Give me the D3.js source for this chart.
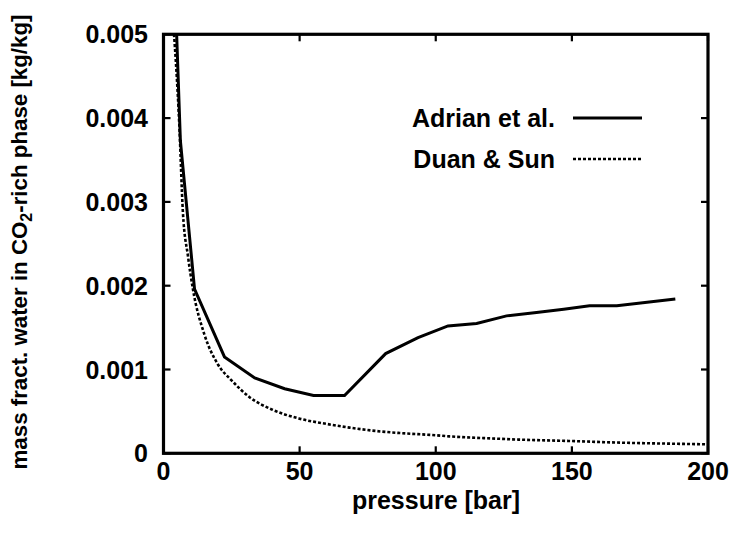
<!DOCTYPE html>
<html>
<head>
<meta charset="utf-8">
<script src="https://cdn.jsdelivr.net/npm/d3@7"></script>
<style>
  html, body { margin: 0; padding: 0; background: #fff; }
  svg { display: block; }
  text { font-family: "Liberation Sans", Arial, sans-serif; font-weight: bold; fill: #000; }
</style>
</head>
<body>
<svg id="chart" width="736" height="534"></svg>
<script>
// Adrian et al. (solid line): pressure [bar] vs water mass fraction [kg/kg]
const adrianPressure = [4.5, 6.2, 11.4, 22.4, 33.5, 44.5, 55.1, 66.5, 81.6, 93.5, 104.5, 115, 126, 137, 147, 156.5, 166.5, 188];
const adrianWater = [0.0053, 0.00373, 0.00196, 0.00115, 0.00090, 0.00077, 0.00069, 0.00069, 0.00119, 0.00138, 0.00152, 0.00155, 0.00164, 0.00168, 0.00172, 0.00176, 0.00176, 0.00184];

// Duan & Sun (dotted line)
const duanPressure = [3.2, 5.9, 7.1, 9, 10.8, 15, 20, 25, 31.6, 40, 50, 60, 68.4, 80, 86.8, 100, 105, 120, 131, 149, 168, 186, 200];
const duanWater = [0.0053, 0.00385, 0.00289, 0.00235, 0.00196, 0.00142, 0.00106, 0.00087, 0.00067, 0.00052, 0.000413, 0.00035, 0.000306, 0.00026, 0.000242, 0.000215, 0.000202, 0.000178, 0.000163, 0.000147, 0.000127, 0.000115, 0.000107];

const xTicks = [0, 50, 100, 150, 200];
const yTicks = [0, 0.001, 0.002, 0.003, 0.004, 0.005];
const yTickLabels = ["0", "0.001", "0.002", "0.003", "0.004", "0.005"];
const seriesNames = ["Adrian et al.", "Duan & Sun"];

const svg = d3.select("#chart");
const plotLeft = 163.5, plotRight = 708, plotTop = 34.3, plotBottom = 453.3;

const x = d3.scaleLinear().domain([0, 200]).range([plotLeft, plotRight]);
const y = d3.scaleLinear().domain([0, 0.005]).range([plotBottom, plotTop]);

svg.append("defs").append("clipPath").attr("id", "plotClip")
  .append("rect").attr("x", plotLeft).attr("y", plotTop)
  .attr("width", plotRight - plotLeft).attr("height", plotBottom - plotTop);

const tickLen = 7;
const fontSize = 25;

// Tick marks on all four sides, pointing inward
const ticks = svg.append("g").attr("stroke", "#000").attr("stroke-width", 2.2);
xTicks.forEach(t => {
  ticks.append("line").attr("x1", x(t)).attr("x2", x(t)).attr("y1", plotBottom).attr("y2", plotBottom - tickLen);
  ticks.append("line").attr("x1", x(t)).attr("x2", x(t)).attr("y1", plotTop).attr("y2", plotTop + tickLen);
});
yTicks.forEach(t => {
  ticks.append("line").attr("x1", plotLeft).attr("x2", plotLeft + tickLen).attr("y1", y(t)).attr("y2", y(t));
  ticks.append("line").attr("x1", plotRight).attr("x2", plotRight - tickLen).attr("y1", y(t)).attr("y2", y(t));
});

// Tick labels
svg.append("g").selectAll("text").data(xTicks).join("text")
  .attr("x", d => x(d)).attr("y", 480)
  .attr("text-anchor", "middle").attr("font-size", fontSize)
  .text(d => d);

svg.append("g").selectAll("text").data(yTicks).join("text")
  .attr("x", 148).attr("y", d => y(d)).attr("dy", "0.36em")
  .attr("text-anchor", "end").attr("font-size", fontSize)
  .text((d, i) => yTickLabels[i]);

// Axis titles
svg.append("text").attr("x", 436).attr("y", 509)
  .attr("text-anchor", "middle").attr("font-size", fontSize)
  .text("pressure [bar]");

const yTitle = svg.append("text")
  .attr("transform", "translate(27,242) rotate(-90)")
  .attr("text-anchor", "middle").attr("font-size", 22.3);
yTitle.append("tspan").text("mass fract. water in CO");
yTitle.append("tspan").attr("font-size", 16).attr("dy", 5).text("2");
yTitle.append("tspan").attr("dy", -5).text("-rich phase [kg/kg]");

// Data lines
const lineGen = d3.line().x(d => x(d[0])).y(d => y(d[1]));
const plot = svg.append("g").attr("clip-path", "url(#plotClip)");

const adrian = adrianPressure.map((p, i) => [p, adrianWater[i]]);
const duan = duanPressure.map((p, i) => [p, duanWater[i]]);

plot.append("path").datum(duan)
  .attr("d", d3.line().x(d => x(d[0])).y(d => y(d[1])).curve(d3.curveMonotoneX))
  .attr("fill", "none").attr("stroke", "#000")
  .attr("stroke-width", 2.6).attr("stroke-dasharray", "3,2");

plot.append("path").datum(adrian)
  .attr("d", lineGen)
  .attr("fill", "none").attr("stroke", "#000")
  .attr("stroke-width", 3).attr("stroke-linejoin", "miter");

// Legend
const legendRows = [
  { name: seriesNames[0], y: 118, dash: null },
  { name: seriesNames[1], y: 159, dash: "3,2" }
];
const legend = svg.append("g");
legendRows.forEach(r => {
  legend.append("text").attr("x", 555).attr("y", r.y).attr("dy", "0.36em")
    .attr("text-anchor", "end").attr("font-size", fontSize).text(r.name);
  legend.append("line").attr("x1", 573).attr("x2", 642).attr("y1", r.y).attr("y2", r.y)
    .attr("stroke", "#000").attr("stroke-width", r.dash ? 2.6 : 3)
    .attr("stroke-dasharray", r.dash);
});

// Plot frame
svg.append("rect").attr("x", plotLeft).attr("y", plotTop)
  .attr("width", plotRight - plotLeft).attr("height", plotBottom - plotTop)
  .attr("fill", "none").attr("stroke", "#000").attr("stroke-width", 3.2);
</script>
</body>
</html>
